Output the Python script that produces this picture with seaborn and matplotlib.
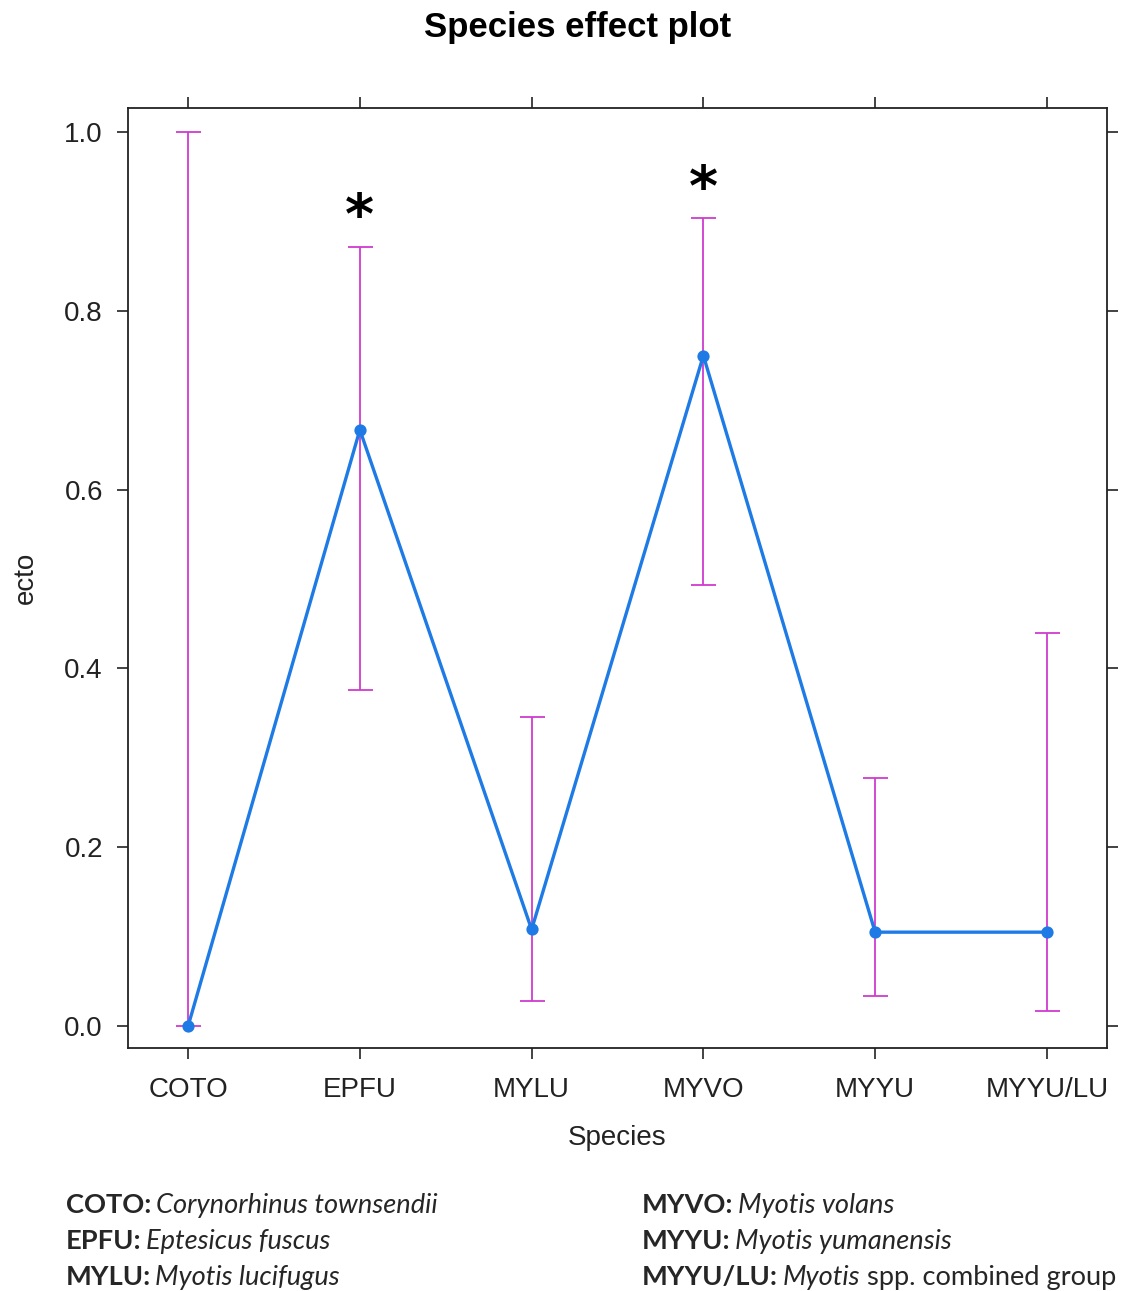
import matplotlib
matplotlib.use("Agg")
import matplotlib.pyplot as plt
import seaborn as sns
import pandas as pd
import numpy as np

# ---- data ----
species = ["COTO", "EPFU", "MYLU", "MYVO", "MYYU", "MYYU/LU"]
ecto = [0.0, 0.667, 0.108, 0.750, 0.105, 0.105]
ci_lower = [0.0, 0.376, 0.028, 0.493, 0.034, 0.017]
ci_upper = [1.0, 0.871, 0.346, 0.904, 0.277, 0.440]
significant = ["EPFU", "MYVO"]
star_y = [0.904, 0.935]
y_ticks = [0.0, 0.2, 0.4, 0.6, 0.8, 1.0]

caption_left = [("COTO:", "Corynorhinus townsendii", ""),
                ("EPFU:", "Eptesicus fuscus", ""),
                ("MYLU:", "Myotis lucifugus", "")]
caption_right = [("MYVO:", "Myotis volans", ""),
                 ("MYYU:", "Myotis yumanensis", ""),
                 ("MYYU/LU:", "Myotis", " spp. combined group")]

df = pd.DataFrame({"Species": species, "ecto": ecto})

sns.set_theme(style="white")
plt.rcParams["font.family"] = ["Liberation Sans", "DejaVu Sans"]

DPI = 100
fig = plt.figure(figsize=(1122 / DPI, 1291 / DPI), dpi=DPI)
ax = fig.add_axes([128 / 1122, 1 - 1048 / 1291, (1107 - 128) / 1122, (1048 - 108) / 1291])

line_col = "#1e7be6"
ci_col = "#d03cd0"

# confidence intervals
xpos = np.arange(len(species))
ax.errorbar(xpos, ecto,
            yerr=[np.array(ecto) - np.array(ci_lower), np.array(ci_upper) - np.array(ecto)],
            fmt="none", ecolor=ci_col, elinewidth=1.3, capsize=9, capthick=1.3, zorder=2)

# effect line
sns.pointplot(data=df, x="Species", y="ecto", errorbar=None, color=line_col,
              markers="o", markersize=7, linewidth=2.4, ax=ax, zorder=3)

# significance stars
for sp, sy in zip(significant, star_y):
    ax.text(species.index(sp), sy, "*", ha="center", va="center",
            fontsize=40, fontweight="bold", color="black",
            family=["DejaVu Sans"])

ax.set_xlim(-0.35, len(species) - 1 + 0.35)
ax.set_ylim(-0.0246, 1.027)
ax.set_yticks(y_ticks)
ax.set_yticklabels([f"{v:.1f}" for v in y_ticks])

for s in ax.spines.values():
    s.set_visible(True)
    s.set_color("#222222")
    s.set_linewidth(1.3)

ax.tick_params(axis="both", which="both", direction="out", length=8, width=1.2,
               color="#222222", top=True, right=True, bottom=True, left=True,
               labeltop=False, labelright=False, labelsize=20, labelcolor="#222222")
ax.tick_params(axis="y", pad=10)
ax.tick_params(axis="x", pad=13)

ax.set_xlabel("Species", fontsize=20, color="#222222", labelpad=16)
ax.set_ylabel("ecto", fontsize=20, color="#222222", labelpad=18)

fig.text(578 / 1122, 1 - 28 / 1291, "Species effect plot", ha="center", va="center",
         fontsize=25, fontweight="bold", color="black")

# caption with mixed bold / italic text
cap_font = ["Lato", "DejaVu Sans"]
cap_size = 19.6
baselines = [1291 - 1213, 1291 - 1249, 1291 - 1285]


def caption_row(x0, yb, parts):
    bold, ital, normal = parts
    t1 = ax.annotate(bold, xy=(x0, yb), xycoords="figure pixels", ha="left",
                     va="baseline", fontsize=cap_size, fontweight="bold",
                     family=cap_font, annotation_clip=False)
    t2 = ax.annotate(ital, xy=(1, yb), xycoords=(t1, "figure pixels"),
                     xytext=(3, 0), textcoords="offset points", ha="left",
                     va="baseline", fontsize=cap_size, style="italic",
                     family=cap_font, annotation_clip=False)
    if normal:
        ax.annotate(normal, xy=(1, yb), xycoords=(t2, "figure pixels"),
                    ha="left", va="baseline", fontsize=cap_size,
                    family=cap_font, annotation_clip=False)


for parts, yb in zip(caption_left, baselines):
    caption_row(66, yb, parts)
for parts, yb in zip(caption_right, baselines):
    caption_row(642, yb, parts)

fig.savefig("out.png", dpi=DPI)
